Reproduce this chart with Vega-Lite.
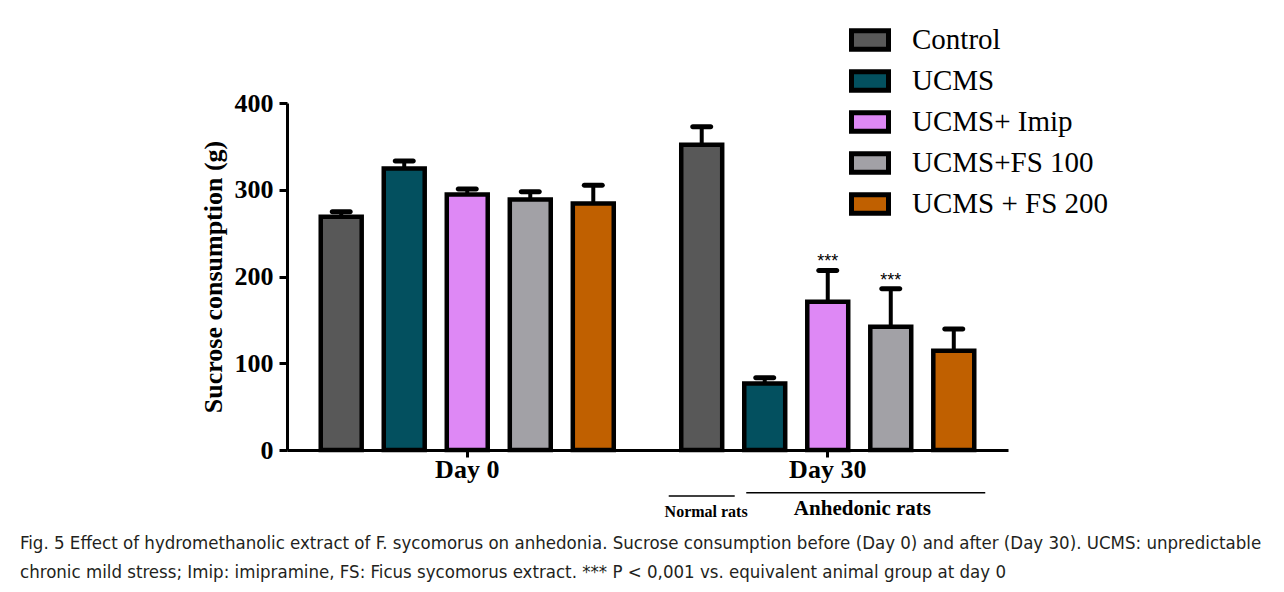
{
  "$schema": "https://vega.github.io/schema/vega-lite/v6.json",
  "width": 721,
  "height": 347,
  "autosize": {"type": "none"},
  "padding": {"left": 287, "top": 103, "right": 276, "bottom": 142},
  "background": "white",
  "config": {
    "view": {"stroke": null},
    "legend": {"labelFont": "Liberation Serif, Times New Roman, DejaVu Serif, serif", "labelFontSize": 29, "labelColor": "black", "labelFontWeight": "normal"}
  },
  "datasets": {
    "bars": [
      {"day": "Day 0", "group": "Control", "mean": 269, "upper": 274.5, "sig": ""},
      {"day": "Day 0", "group": "UCMS", "mean": 324.5, "upper": 333, "sig": ""},
      {"day": "Day 0", "group": "UCMS+ Imip", "mean": 294.6, "upper": 301, "sig": ""},
      {"day": "Day 0", "group": "UCMS+FS 100", "mean": 288.8, "upper": 297.6, "sig": ""},
      {"day": "Day 0", "group": "UCMS + FS 200", "mean": 284.2, "upper": 305.3, "sig": ""},
      {"day": "Day 30", "group": "Control", "mean": 352, "upper": 372.5, "sig": ""},
      {"day": "Day 30", "group": "UCMS", "mean": 76.8, "upper": 83.3, "sig": ""},
      {"day": "Day 30", "group": "UCMS+ Imip", "mean": 171, "upper": 207, "sig": "***"},
      {"day": "Day 30", "group": "UCMS+FS 100", "mean": 142, "upper": 186, "sig": "***"},
      {"day": "Day 30", "group": "UCMS + FS 200", "mean": 114.4, "upper": 139.4, "sig": ""}
    ]
  },
  "data": {"name": "bars"},
  "title": {
    "text": [
      "Fig. 5 Effect of hydromethanolic extract of F. sycomorus on anhedonia. Sucrose consumption before (Day 0) and after (Day 30). UCMS: unpredictable",
      "chronic mild stress; Imip: imipramine, FS: Ficus sycomorus extract. *** P < 0,001 vs. equivalent animal group at day 0"
    ],
    "orient": "bottom",
    "anchor": "start",
    "frame": "group",
    "dx": -267,
    "offset": 14,
    "font": "DejaVu Sans Condensed, sans-serif",
    "fontSize": 18.5,
    "fontWeight": "normal",
    "color": "#231f20",
    "lineHeight": 29
  },
  "layer": [
    {
      "mark": {"type": "rule", "color": "black", "strokeWidth": 4},
      "encoding": {
        "x": {"field": "day", "type": "nominal", "sort": ["Day 0", "Day 30"]},
        "xOffset": {"field": "group", "type": "nominal", "sort": ["Control", "UCMS", "UCMS+ Imip", "UCMS+FS 100", "UCMS + FS 200"]},
        "y": {"field": "mean", "type": "quantitative"},
        "y2": {"field": "upper"}
      }
    },
    {
      "mark": {"type": "tick", "orient": "horizontal", "color": "black", "size": 23, "thickness": 5, "cornerRadius": 2.5, "opacity": 1},
      "encoding": {
        "x": {"field": "day", "type": "nominal", "sort": ["Day 0", "Day 30"]},
        "xOffset": {"field": "group", "type": "nominal", "sort": ["Control", "UCMS", "UCMS+ Imip", "UCMS+FS 100", "UCMS + FS 200"]},
        "y": {"field": "upper", "type": "quantitative"}
      }
    },
    {
      "mark": {"type": "bar", "stroke": "black", "strokeWidth": 4.5, "strokeJoin": "miter", "opacity": 1},
      "encoding": {
        "x": {
          "field": "day", "type": "nominal", "sort": ["Day 0", "Day 30"], "title": null,
          "scale": {"paddingInner": 0.126, "paddingOuter": 0.063},
          "axis": {
            "labelAngle": 0, "labelAlign": "center", "labelFont": "Liberation Serif", "labelFontWeight": "bold", "labelFontSize": 26,
            "labelColor": "black", "labelPadding": 12, "tickSize": 7, "tickWidth": 3, "tickColor": "black",
            "domainColor": "black", "domainWidth": 3
          }
        },
        "xOffset": {
          "field": "group", "type": "nominal", "sort": ["Control", "UCMS", "UCMS+ Imip", "UCMS+FS 100", "UCMS + FS 200"],
          "scale": {"paddingInner": 0.35, "paddingOuter": 0.175}
        },
        "y": {
          "field": "mean", "type": "quantitative", "title": "Sucrose consumption (g)",
          "scale": {"domain": [0, 400], "nice": false},
          "axis": {
            "values": [0, 100, 200, 300, 400], "grid": false,
            "labelFont": "Liberation Serif", "labelFontWeight": "bold", "labelFontSize": 26, "labelColor": "black",
            "labelPadding": 6, "tickSize": 8, "tickWidth": 3, "tickColor": "black",
            "domainColor": "black", "domainWidth": 3,
            "titleFont": "Liberation Serif", "titleFontWeight": "bold", "titleFontSize": 26, "titleColor": "black",
            "titlePadding": 8
          }
        },
        "fill": {
          "field": "group", "type": "nominal",
          "scale": {
            "domain": ["Control", "UCMS", "UCMS+ Imip", "UCMS+FS 100", "UCMS + FS 200"],
            "range": ["#585858", "#03505f", "#de88f5", "#a2a1a6", "#c06000"]
          },
          "legend": {
            "title": null, "orient": "none", "legendX": 562, "legendY": -84, "padding": 0,
            "symbolType": "M-1,-0.5H1V0.5H-1Z", "symbolSize": 1369,
            "symbolStrokeColor": "black", "symbolStrokeWidth": 5, "symbolOpacity": 1,
            "labelFont": "Liberation Serif, Times New Roman, DejaVu Serif, serif", "labelFontWeight": "normal",
            "labelFontSize": 29, "labelColor": "black",
            "labelOffset": 21, "rowPadding": 0, "labelLimit": 400
          }
        }
      }
    },
    {
      "transform": [{"filter": "datum.sig === '***'"}],
      "mark": {"type": "text", "font": "Liberation Sans", "fontSize": 18, "color": "black", "baseline": "alphabetic", "dy": -3},
      "encoding": {
        "x": {"field": "day", "type": "nominal", "sort": ["Day 0", "Day 30"]},
        "xOffset": {"field": "group", "type": "nominal", "sort": ["Control", "UCMS", "UCMS+ Imip", "UCMS+FS 100", "UCMS + FS 200"]},
        "y": {"field": "upper", "type": "quantitative"},
        "text": {"field": "sig"}
      }
    },
    {
      "data": {"values": [{"label": "Normal rats"}]},
      "mark": {"type": "bar", "color": "black", "width": 66, "opacity": 1},
      "encoding": {
        "x": {"datum": "Day 30"},
        "xOffset": {"datum": "Control"},
        "y": {"datum": -52.1},
        "y2": {"datum": -53.9}
      }
    },
    {
      "data": {"values": [{"label": "Anhedonic rats"}]},
      "mark": {"type": "bar", "color": "black", "width": 239, "xOffset": 38, "opacity": 1},
      "encoding": {
        "x": {"datum": "Day 30"},
        "y": {"datum": -48.3},
        "y2": {"datum": -50.1}
      }
    },
    {
      "data": {"values": [{"label": "Normal rats"}]},
      "mark": {"type": "text", "font": "Liberation Serif", "fontWeight": "bold", "fontSize": 16, "color": "black", "baseline": "alphabetic"},
      "encoding": {
        "x": {"datum": "Day 30", "bandPosition": 0.114},
        "y": {"datum": -77},
        "text": {"field": "label"}
      }
    },
    {
      "data": {"values": [{"label": "Anhedonic rats"}]},
      "mark": {"type": "text", "font": "Liberation Serif", "fontWeight": "bold", "fontSize": 21, "color": "black", "baseline": "alphabetic"},
      "encoding": {
        "x": {"datum": "Day 30", "bandPosition": 0.61},
        "y": {"datum": -75},
        "text": {"field": "label"}
      }
    }
  ]
}
